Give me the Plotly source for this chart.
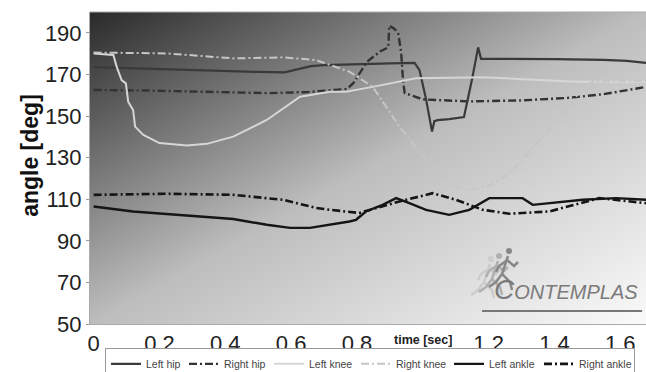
import base64
import plotly.graph_objects as go

# ---------------- data ----------------
left_hip_t = [0, 0.1, 0.2, 0.3, 0.4, 0.5, 0.58, 0.62, 0.66, 0.7, 0.8, 0.9, 0.975, 0.99, 1.01, 1.028,
              1.035, 1.045, 1.08, 1.125, 1.15, 1.168, 1.177, 1.25, 1.4, 1.55, 1.62, 1.678]
left_hip_v = [173.5, 173, 172.5, 172, 171.5, 171.2, 171, 172.5, 174, 174.5, 175, 175.3, 175.5, 172, 158, 142.5,
              147.5, 148, 148.5, 149.5, 168, 183, 177.5, 177.5, 177.3, 177, 176.5, 175.5]

right_hip_t = [0, 0.15, 0.32, 0.53, 0.65, 0.72, 0.77, 0.79, 0.83, 0.87, 0.895, 0.898, 0.913, 0.925, 0.934,
               0.94, 0.945, 1.0, 1.14, 1.3, 1.44, 1.55, 1.678]
right_hip_v = [162.5, 162.3, 161.7, 161, 161.5, 162.5, 163, 166, 176, 181, 183, 193.5, 192, 190, 181,
               167, 161, 158, 157, 157.5, 158.7, 160.5, 164]

left_knee_t = [0, 0.06, 0.07, 0.085, 0.098, 0.105, 0.12, 0.126, 0.151, 0.2, 0.283, 0.344, 0.424, 0.526,
               0.627, 0.718, 0.767, 0.848, 0.979, 1.182, 1.465, 1.678]
left_knee_v = [180.1, 179.3, 173.7, 167.3, 165.7, 156.9, 152.9, 144.9, 140.9, 137, 135.8, 136.6, 140.1, 148.1,
               159.3, 161.7, 161.7, 164, 168.1, 168.6, 166.5, 166.5]

right_knee_t = [0, 0.222, 0.424, 0.576, 0.676, 0.718, 0.777, 0.848, 0.929, 1.01, 1.06, 1.11, 1.15, 1.2,
                1.25, 1.283, 1.384, 1.486, 1.516, 1.6, 1.678]
right_knee_v = [180.5, 180.1, 177.7, 178.2, 176.9, 174.5, 171.3, 164, 144.9, 128.9, 120.5, 115.5, 114.5, 116.5,
                121, 125.7, 143.3, 163.3, 166.5, 167, 167]

left_ankle_t = [0, 0.12, 0.323, 0.424, 0.526, 0.597, 0.657, 0.718, 0.777, 0.797, 0.827, 0.878, 0.919, 0.959,
                1.01, 1.08, 1.141, 1.202, 1.303, 1.334, 1.384, 1.486, 1.587, 1.678]
left_ankle_v = [106.5, 104.1, 101.7, 100.5, 97.7, 96.2, 96.2, 97.7, 99.3, 100.1, 104.1, 107.3, 110.5, 108.1,
                104.9, 102.5, 104.9, 110.5, 110.5, 107.3, 108.1, 109.7, 110.5, 109.7]

right_ankle_t = [0, 0.222, 0.424, 0.576, 0.676, 0.718, 0.807, 0.929, 1.03, 1.101, 1.182, 1.263, 1.384,
                 1.536, 1.678]
right_ankle_v = [112.1, 112.6, 112.1, 109.7, 105.8, 104.9, 103.4, 108.9, 112.9, 109.7, 104.9, 103, 104.1,
                 110.5, 108.1]

x_tickvals = [0, 0.2, 0.4, 0.6, 0.8, 1.2, 1.4, 1.6]
x_ticktext = ["0", "0.2", "0.4", "0.6", "0.8", "1.2", "1.4", "1.6"]
y_tickvals = [50, 70, 90, 110, 130, 150, 170, 190]

FONT = "Liberation Sans, Arial, sans-serif"
DASHDOT = "8px,3px,2px,3px"

series = [
    ("Left hip", left_hip_t, left_hip_v, "#3a3a3a", "solid", 2.2, 33),
    ("Right hip", right_hip_t, right_hip_v, "#333333", DASHDOT, 2.4, 40),
    ("Left knee", left_knee_t, left_knee_v, "#d6d6d6", "solid", 2.0, 42),
    ("Right knee", right_knee_t, right_knee_v, "#c6c6c6", DASHDOT, 2.0, 48),
    ("Left ankle", left_ankle_t, left_ankle_v, "#151515", "solid", 2.4, 45),
    ("Right ankle", right_ankle_t, right_ankle_v, "#151515", DASHDOT, 2.6, 50),
]

fig = go.Figure()
for name, t, v, col, dash, w, lw in series:
    fig.add_trace(go.Scatter(x=t, y=v, mode="lines", name=name, legendwidth=lw,
                             line=dict(color=col, dash=dash, width=w)))

svg = ("<svg xmlns='http://www.w3.org/2000/svg' width='556' height='312' viewBox='0 0 556 312' "
       "preserveAspectRatio='none'><defs><linearGradient id='g' x1='0' y1='0' x2='1' y2='1'>"
       "<stop offset='0' stop-color='#2a2a2a'/><stop offset='0.5' stop-color='#bdbdbd'/>"
       "<stop offset='1' stop-color='#fafafa'/></linearGradient></defs>"
       "<rect width='556' height='312' fill='url(#g)'/></svg>")
src = "data:image/svg+xml;base64," + base64.b64encode(svg.encode()).decode()

fig.update_layout(
    width=646, height=372,
    margin=dict(l=90, r=0, t=12, b=48, autoexpand=False),
    paper_bgcolor="white",
    plot_bgcolor="rgba(0,0,0,0)",
    font=dict(family=FONT, color="#222"),
    images=[dict(source=src, xref="paper", yref="paper", x=0, y=1, sizex=1, sizey=1,
                 xanchor="left", yanchor="top", sizing="stretch", layer="below")],
    showlegend=True,
    legend=dict(orientation="h", x=0.027, xanchor="left", y=-0.078, yanchor="top",
                bordercolor="#999", borderwidth=1, bgcolor="white",
                font=dict(size=10.5, color="#444", family=FONT), itemwidth=30,
                tracegroupgap=0),
    xaxis=dict(range=[-0.011, 1.678], tickvals=x_tickvals, ticktext=x_ticktext,
               tickfont=dict(size=22, color="#222"), showgrid=False, zeroline=False,
               showline=True, linecolor="#aaa", linewidth=1, ticks="", fixedrange=True),
    yaxis=dict(range=[50, 200], tickvals=y_tickvals, tickfont=dict(size=22, color="#222"),
               showgrid=False, zeroline=False, showline=True, linecolor="#aaa", linewidth=1,
               ticks="outside", ticklen=3, tickcolor="#999"),
    annotations=[
        dict(text="<b>time [sec]</b>", x=1.0, xref="x", y=-0.051, yref="paper",
             showarrow=False, font=dict(size=12.5, color="#222"), yanchor="middle"),
        dict(text="<b>angle [deg]</b>", x=-0.108, xref="paper", y=0.542, yref="paper",
             xanchor="center", yanchor="middle",
             showarrow=False, textangle=-90, font=dict(size=23, color="#111")),
        dict(text="<i><span style='font-size:28px'>C</span>ONTEMPLAS</i>", x=0.99, xref="paper",
             y=0.055, yref="paper", xanchor="right", yanchor="bottom", showarrow=False,
             font=dict(size=20, color="#7a7a7a")),
    ],
)

# border on top of plot area and logo underline
fig.add_shape(type="line", xref="paper", yref="paper", x0=0, x1=1, y0=1, y1=1,
              line=dict(color="#aaa", width=1))
fig.add_shape(type="line", xref="paper", yref="paper", x0=0.705, x1=0.993, y0=0.042, y1=0.042,
              line=dict(color="#777", width=2))

# simple runner silhouettes of the logo
def px(xp, yp):
    return ((xp - 90) / 556.0, (324 - yp) / 312.0)

def runner(dx, dy, col):
    segs = [[(520, 262), (514, 280)], [(519, 266), (526, 272), (530, 268)], [(518, 267), (511, 272), (508, 278)],
            [(514, 280), (522, 288), (524, 296)], [(514, 280), (508, 288), (501, 293)]]
    for s in segs:
        pts = [px(x + dx, y + dy) for x, y in s]
        path = "M " + " L ".join(f"{a:.4f},{b:.4f}" for a, b in pts)
        fig.add_shape(type="path", xref="paper", yref="paper", path=path,
                      line=dict(color=col, width=2.5))
    cx, cy = px(521 + dx, 257 + dy)
    fig.add_shape(type="circle", xref="paper", yref="paper", x0=cx - 3 / 556, x1=cx + 3 / 556,
                  y0=cy - 3 / 312, y1=cy + 3 / 312, fillcolor=col, line=dict(width=0))

runner(-30, 2, "#cccccc")
runner(-22, -1, "#b0b0b0")
runner(-12, -6, "#888888")

fig.write_html("out.html")
